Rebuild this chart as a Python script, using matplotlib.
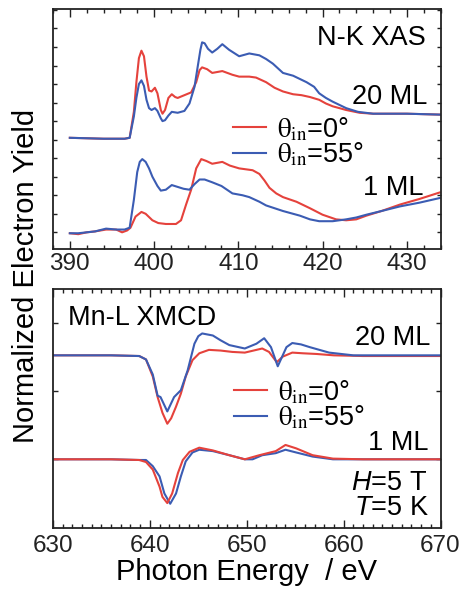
import matplotlib
matplotlib.use("Agg")
import matplotlib.pyplot as plt
from matplotlib.ticker import MultipleLocator, FixedLocator
from matplotlib.font_manager import FontProperties

plt.rcParams['font.family'] = ['Liberation Sans', 'DejaVu Sans']
plt.rcParams['mathtext.fontset'] = 'custom'
plt.rcParams['mathtext.rm'] = 'Liberation Sans'
plt.rcParams['mathtext.it'] = 'Liberation Sans:italic'

RED = '#e5423c'
BLUE = '#3b5cb3'

# ---------------- N-K XAS (top) ----------------
xas20_red_E = [390.0, 394.0, 396.5, 397.1, 397.6, 397.9, 398.2, 398.5, 398.8, 399.1, 399.4, 399.7,
               400.1, 400.4, 400.8, 401.0, 401.3, 401.7, 402.1, 402.5, 402.8, 403.6, 404.4, 405.0,
               405.4, 405.7, 406.3, 406.9, 407.5, 408.1, 409.3, 410.1, 411.3, 412.1, 413.3, 414.3,
               415.3, 416.5, 417.5, 418.5, 419.6, 420.4, 421.2, 422.8, 424.4, 426.0, 430.0, 434.0]
xas20_red_y = [1.02, 1.01, 1.01, 1.02, 1.30, 1.62, 1.88, 1.96, 1.90, 1.68, 1.53, 1.52,
               1.56, 1.50, 1.32, 1.28, 1.32, 1.45, 1.49, 1.46, 1.45, 1.48, 1.51, 1.62,
               1.75, 1.78, 1.76, 1.72, 1.73, 1.74, 1.70, 1.68, 1.68, 1.67, 1.62, 1.56,
               1.52, 1.49, 1.48, 1.46, 1.43, 1.39, 1.36, 1.32, 1.29, 1.28, 1.28, 1.27]

xas20_blue_E = [390.0, 394.0, 396.5, 397.1, 397.6, 397.9, 398.2, 398.5, 398.8, 399.1, 399.4, 399.7,
                400.1, 400.4, 400.8, 401.0, 401.3, 401.7, 402.1, 402.8, 403.6, 404.2, 404.8, 405.2,
                405.5, 405.7, 406.0, 406.4, 406.9, 407.5, 408.1, 408.9, 410.1, 411.3, 412.5, 413.3,
                414.1, 415.3, 416.5, 418.1, 419.0, 419.6, 420.4, 421.2, 422.8, 424.2, 426.0, 430.0, 434.0]
xas20_blue_y = [1.02, 1.01, 1.01, 1.02, 1.25, 1.45, 1.60, 1.64, 1.58, 1.43, 1.34, 1.32,
                1.34, 1.31, 1.23, 1.20, 1.21, 1.26, 1.30, 1.29, 1.31, 1.39, 1.57, 1.80,
                1.97, 2.05, 2.04, 1.98, 1.94, 1.98, 2.03, 1.97, 1.90, 1.93, 1.91, 1.87,
                1.82, 1.72, 1.69, 1.62, 1.57, 1.50, 1.45, 1.41, 1.34, 1.30, 1.28, 1.28, 1.27]

xas1_blue_E = [390.0, 391.0, 392.0, 393.0, 394.3, 395.5, 396.5, 397.1, 397.6, 398.0, 398.3, 398.6,
               399.0, 399.4, 399.8, 400.4, 400.8, 401.4, 402.1, 402.8, 403.5, 404.2, 404.8, 405.4,
               406.0, 406.9, 408.0, 409.3, 410.5, 411.3, 412.5, 413.3, 414.3, 415.3, 416.5, 417.3,
               418.5, 419.6, 421.2, 422.8, 424.0, 425.2, 427.0, 429.2, 431.5, 433.9]
xas1_blue_y = [-0.01, -0.01, 0.00, 0.01, 0.04, 0.03, 0.03, 0.05, 0.35, 0.65, 0.76, 0.79,
               0.76, 0.69, 0.60, 0.50, 0.45, 0.46, 0.51, 0.49, 0.47, 0.46, 0.52, 0.57,
               0.57, 0.54, 0.50, 0.42, 0.40, 0.38, 0.33, 0.29, 0.26, 0.23, 0.20, 0.18,
               0.14, 0.12, 0.12, 0.14, 0.16, 0.19, 0.23, 0.28, 0.32, 0.37]

xas1_red_E = [390.0, 391.0, 392.0, 393.0, 394.3, 395.5, 396.2, 396.8, 397.2, 397.8, 398.5, 399.0,
              399.8, 400.5, 401.4, 402.6, 403.2, 403.8, 404.4, 405.0, 405.6, 406.2, 406.9, 408.1,
              409.0, 410.1, 411.7, 412.5, 413.1, 413.7, 414.5, 415.3, 416.9, 418.5, 420.0, 421.6,
              422.8, 424.0, 425.2, 427.0, 429.2, 431.5, 433.9]
xas1_red_y = [-0.01, -0.02, 0.00, 0.01, 0.03, 0.03, 0.00, 0.02, 0.05, 0.17, 0.22, 0.20,
              0.13, 0.10, 0.09, 0.09, 0.13, 0.30, 0.46, 0.69, 0.79, 0.77, 0.74, 0.76,
              0.72, 0.69, 0.67, 0.63, 0.56, 0.48, 0.42, 0.38, 0.33, 0.26, 0.19, 0.14,
              0.13, 0.14, 0.18, 0.23, 0.30, 0.36, 0.43]

# ---------------- Mn-L XMCD (bottom) ----------------
mcd20_red_E = [630.0, 636.0, 638.9, 639.6, 640.3, 640.8, 641.3, 641.8, 642.2, 642.7, 643.2, 643.7,
               644.4, 645.1, 646.1, 647.3, 648.5, 649.8, 651.0, 651.6, 652.3, 653.1, 653.7, 654.7,
               655.8, 657.2, 659.0, 662.0, 670.0]
mcd20_red_y = [1.52, 1.52, 1.51, 1.46, 1.21, 0.91, 0.68, 0.52, 0.60, 0.77, 0.96, 1.21,
               1.45, 1.55, 1.60, 1.59, 1.57, 1.56, 1.60, 1.62, 1.57, 1.42, 1.50, 1.56,
               1.55, 1.54, 1.52, 1.51, 1.51]

mcd20_blue_E = [630.0, 636.0, 638.9, 639.6, 640.3, 640.8, 641.1, 641.8, 642.5, 643.2, 643.9, 644.6,
                645.0, 645.4, 646.5, 647.3, 648.2, 649.8, 651.0, 651.8, 652.5, 653.2, 654.1, 654.7,
                655.6, 656.5, 657.5, 658.5, 661.0, 670.0]
mcd20_blue_y = [1.52, 1.52, 1.51, 1.46, 1.24, 0.93, 0.91, 0.70, 0.91, 1.01, 1.30, 1.69,
                1.80, 1.84, 1.81, 1.74, 1.67, 1.62, 1.69, 1.77, 1.64, 1.36, 1.64, 1.70,
                1.68, 1.64, 1.60, 1.56, 1.52, 1.52]

mcd1_red_E = [630.0, 636.0, 638.9, 639.6, 640.3, 641.0, 641.3, 641.8, 642.3, 642.9, 643.4, 644.1,
              645.1, 646.5, 648.2, 649.8, 651.3, 653.0, 654.0, 655.1, 656.8, 658.9, 662.0, 670.0]
mcd1_red_y = [0.00, 0.00, -0.01, -0.04, -0.15, -0.40, -0.55, -0.64, -0.50, -0.20, -0.01, 0.11,
              0.17, 0.13, 0.06, 0.00, 0.06, 0.12, 0.21, 0.16, 0.06, 0.01, 0.00, 0.00]

mcd1_blue_E = [630.0, 636.0, 638.9, 639.6, 640.3, 641.0, 641.5, 642.1, 642.7, 643.2, 643.7, 644.4,
               645.1, 646.5, 648.2, 649.8, 650.6, 651.6, 653.0, 654.0, 655.1, 656.8, 658.9, 662.0, 670.0]
mcd1_blue_y = [0.00, 0.00, -0.01, -0.01, -0.10, -0.25, -0.50, -0.65, -0.50, -0.25, -0.03, 0.10,
               0.14, 0.12, 0.06, 0.00, 0.00, 0.06, 0.09, 0.14, 0.10, 0.04, 0.00, 0.00, 0.00]

legend_labels = [r'$\mathrm{\theta_{in}}$=0°', r'$\mathrm{\theta_{in}}$=55°']

fig = plt.figure(figsize=(4.66, 5.95), dpi=100)
ax1 = fig.add_axes([0.1137, 0.5815, 0.8316, 0.4034])
ax2 = fig.add_axes([0.1137, 0.1131, 0.8316, 0.4012])

LW = 1.5
l1, = ax1.plot(xas20_red_E, xas20_red_y, color=RED, lw=LW)
l2, = ax1.plot(xas20_blue_E, xas20_blue_y, color=BLUE, lw=LW)
ax1.plot(xas1_red_E, xas1_red_y, color=RED, lw=LW)
ax1.plot(xas1_blue_E, xas1_blue_y, color=BLUE, lw=LW)

m1, = ax2.plot(mcd20_red_E, mcd20_red_y, color=RED, lw=LW)
m2, = ax2.plot(mcd20_blue_E, mcd20_blue_y, color=BLUE, lw=LW)
ax2.plot(mcd1_blue_E, mcd1_blue_y, color=BLUE, lw=LW)
ax2.plot(mcd1_red_E, mcd1_red_y, color=RED, lw=LW)

TICK_FS = 17.5
TXT_FS = 19.5
LAB_FS = 21

ax1.set_xlim(388, 434)
ax1.set_ylim(-0.18, 2.41)
ax1.xaxis.set_major_locator(MultipleLocator(10))
ax1.xaxis.set_minor_locator(MultipleLocator(2))
ax1.yaxis.set_major_locator(MultipleLocator(1))
ax1.yaxis.set_minor_locator(MultipleLocator(0.2))
ax1.tick_params(which='both', direction='in', top=True, right=True, labelleft=False,
                labelsize=TICK_FS, width=1.0, colors='#222222', pad=3)
ax1.tick_params(axis='x', which='major', length=5.5)
ax1.tick_params(axis='x', which='minor', length=3)
ax1.tick_params(axis='y', which='both', length=3)

ax2.set_xlim(630, 670)
ax2.set_ylim(-1.0, 2.49)
ax2.xaxis.set_major_locator(MultipleLocator(10))
ax2.xaxis.set_minor_locator(MultipleLocator(1))
ax2.yaxis.set_major_locator(FixedLocator([0, 1, 2]))
ax2.tick_params(which='both', direction='in', top=True, right=True, labelleft=False,
                labelsize=TICK_FS, width=1.0, colors='#222222', pad=5)
ax2.tick_params(axis='x', which='major', length=5.5)
ax2.tick_params(axis='x', which='minor', length=3)
ax2.tick_params(axis='y', which='major', length=3.5)

for ax in (ax1, ax2):
    for s in ax.spines.values():
        s.set_linewidth(1.3)
        s.set_color('#222222')

leg_prop = FontProperties(family='Liberation Sans', size=TXT_FS, math_fontfamily='stix')
ax1.legend([l1, l2], legend_labels, loc='center left', bbox_to_anchor=(0.465, 0.448),
           frameon=False, prop=leg_prop, handlelength=1.2, handletextpad=0.4,
           labelspacing=-0.1, borderpad=0, borderaxespad=0)
ax2.legend([m1, m2], legend_labels, loc='center left', bbox_to_anchor=(0.468, 0.516),
           frameon=False, prop=leg_prop, handlelength=1.2, handletextpad=0.4,
           labelspacing=-0.1, borderpad=0, borderaxespad=0)

ax1.text(0.962, 0.85, 'N-K XAS', transform=ax1.transAxes, ha='right', va='baseline', fontsize=TXT_FS)
ax1.text(0.966, 0.604, '20 ML', transform=ax1.transAxes, ha='right', va='baseline', fontsize=TXT_FS)
ax1.text(0.957, 0.225, '1 ML', transform=ax1.transAxes, ha='right', va='baseline', fontsize=TXT_FS)

ax2.text(0.040, 0.849, 'Mn-L XMCD', transform=ax2.transAxes, ha='left', va='baseline', fontsize=TXT_FS)
ax2.text(0.975, 0.765, '20 ML', transform=ax2.transAxes, ha='right', va='baseline', fontsize=TXT_FS)
ax2.text(0.970, 0.326, '1 ML', transform=ax2.transAxes, ha='right', va='baseline', fontsize=TXT_FS)
ax2.text(0.966, 0.158, r'$H$=5 T', transform=ax2.transAxes, ha='right', va='baseline', fontsize=TXT_FS)
ax2.text(0.970, 0.053, r'$T$=5 K', transform=ax2.transAxes, ha='right', va='baseline', fontsize=TXT_FS)

ax2.set_xlabel('Photon Energy  / eV', fontsize=LAB_FS, labelpad=1)
fig.text(0.055, 0.536, 'Normalized Electron Yield', rotation=90, ha='center', va='center', fontsize=LAB_FS)

fig.savefig('out.png', dpi=100)
